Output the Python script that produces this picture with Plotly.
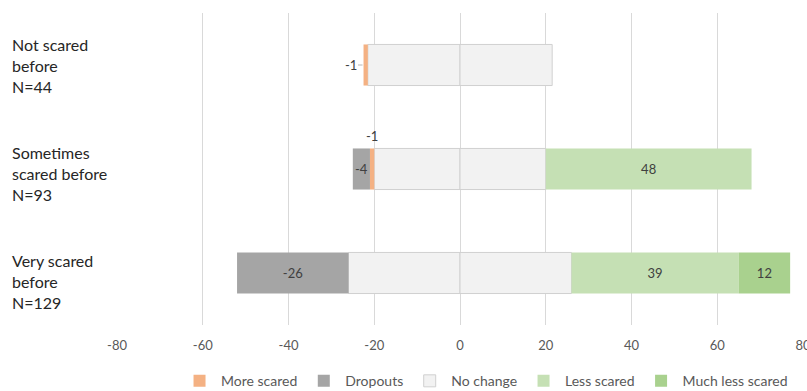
import plotly.graph_objects as go

# Groups (top to bottom) and their multi-line labels
groups = ["Not scared before", "Sometimes scared before", "Very scared before"]
group_labels = ["Not scared<br>before<br>N=44",
                "Sometimes<br>scared before<br>N=93",
                "Very scared<br>before<br>N=129"]

# Counts per response category (negative = left of centre)
more_scared = [-1, -1, None]
dropouts = [None, -4, -26]
no_change = [43, 40, 52]
less_scared = [None, 48, 39]
much_less_scared = [None, None, 12]

x_ticks = [-80, -60, -40, -20, 0, 20, 40, 60, 80]

FONT = "Lato"
TXT = "#404040"
AX = "#595959"

half_left = [-v / 2 for v in no_change]
half_right = [v / 2 for v in no_change]


def lab(vals):
    return [("" if v is None else f"{v:g}") for v in vals]


fig = go.Figure()
nc_line = dict(color="#D0D0D0", width=1)
fig.add_trace(go.Bar(y=groups, x=half_left, orientation="h", name="No change",
                     marker=dict(color="#F2F2F2", line=nc_line),
                     showlegend=False, hoverinfo="skip"))
fig.add_trace(go.Bar(y=groups, x=half_right, orientation="h", name="No change",
                     marker=dict(color="#F2F2F2", line=nc_line), legendrank=3))
fig.add_trace(go.Bar(y=groups, x=more_scared, orientation="h", name="More scared",
                     marker=dict(color="#F4B183", line=dict(width=0)), legendrank=1))
fig.add_trace(go.Bar(y=groups, x=dropouts, orientation="h", name="Dropouts",
                     marker=dict(color="#A5A5A5", line=dict(width=0)), legendrank=2,
                     text=lab(dropouts)))
fig.add_trace(go.Bar(y=groups, x=less_scared, orientation="h", name="Less scared",
                     marker=dict(color="#C5E0B4", line=dict(width=0)), legendrank=4,
                     text=lab(less_scared)))
fig.add_trace(go.Bar(y=groups, x=much_less_scared, orientation="h", name="Much less scared",
                     marker=dict(color="#A9D18E", line=dict(width=0)), legendrank=5,
                     text=lab(much_less_scared)))

fig.update_traces(textposition="inside", insidetextanchor="middle",
                  constraintext="none", textfont=dict(color=TXT, size=13, family=FONT),
                  selector=dict(type="bar"))

annotations = []
# Group labels, left aligned in the left margin
label_shift = [0, -4, -8]
for g, t, s in zip(groups, group_labels, label_shift):
    annotations.append(dict(x=0, xref="paper", xshift=-107, y=g, yref="y",
                            yshift=s, text=t, showarrow=False, xanchor="left",
                            align="left", font=dict(size=16, color="#262626", family=FONT)))

# Small "more scared" values labelled outside their bars
annotations.append(dict(x=half_left[0] + more_scared[0], y=groups[0], text=lab(more_scared)[0],
                        showarrow=True, arrowhead=0, arrowwidth=0.8, arrowcolor="#A6A6A6",
                        ax=-13, ay=0, standoff=1,
                        font=dict(size=13, color=TXT, family=FONT)))
annotations.append(dict(x=half_left[1] + more_scared[1] / 2, y=groups[1], text=lab(more_scared)[1],
                        showarrow=False, yshift=33,
                        font=dict(size=13, color=TXT, family=FONT)))

fig.update_layout(
    width=807, height=391,
    barmode="relative", bargap=0.605,
    plot_bgcolor="white", paper_bgcolor="white",
    margin=dict(l=117, r=4, t=13, b=66, autoexpand=False),
    font=dict(family=FONT, color=AX),
    xaxis=dict(range=[-80, 80], tickvals=x_ticks, ticktext=[str(v) for v in x_ticks],
               showgrid=True, gridcolor="#D9D9D9", gridwidth=1, zeroline=False,
               showline=False, ticks="outside", ticklen=8, tickcolor="rgba(0,0,0,0)",
               ticklabeloverflow="allow", automargin=False,
               tickfont=dict(size=13, color=AX, family=FONT), fixedrange=True),
    yaxis=dict(categoryorder="array", categoryarray=groups, autorange="reversed",
               showticklabels=False, showgrid=False, zeroline=False, fixedrange=True,
               automargin=False),
    legend=dict(orientation="h", xref="container", yref="container",
                x=0.2206, xanchor="left", y=0.025, yanchor="middle",
                itemwidth=33,
                font=dict(size=14, color=AX, family=FONT), traceorder="normal"),
    annotations=annotations,
    showlegend=True,
)

fig.write_html("out.html")
